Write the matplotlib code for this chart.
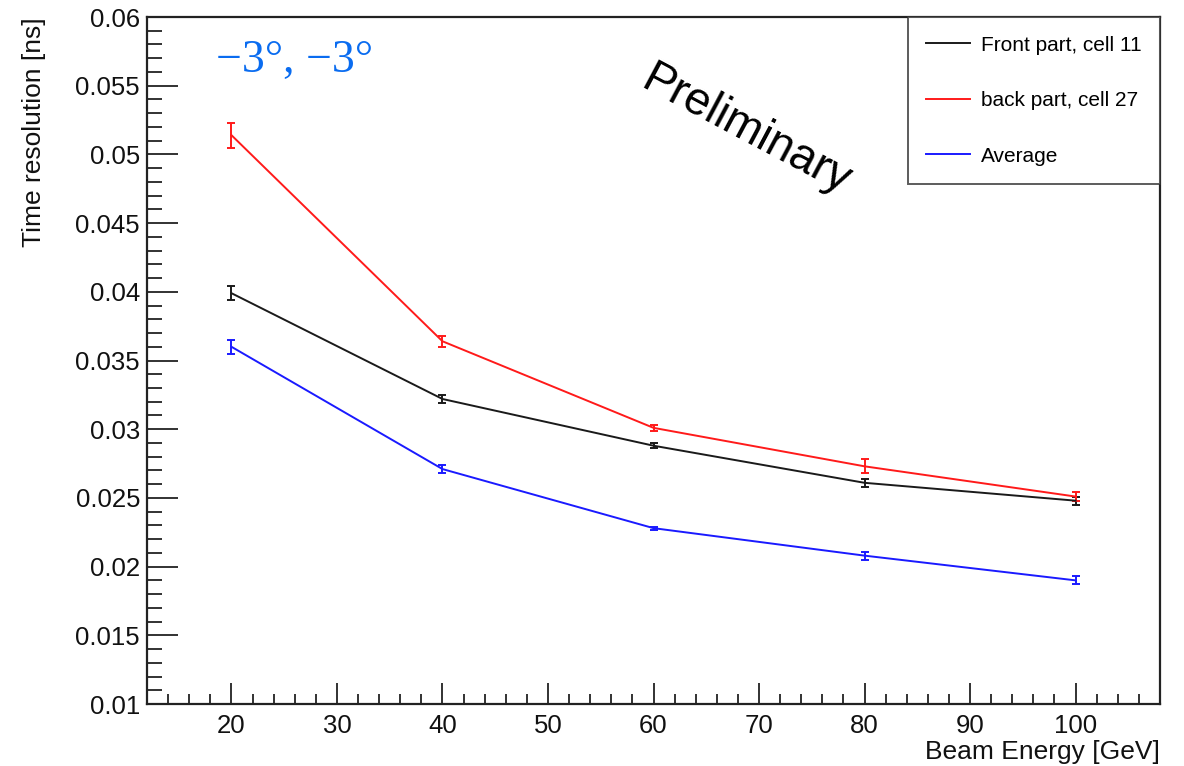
import matplotlib
matplotlib.use("Agg")
import matplotlib.pyplot as plt
from matplotlib.ticker import MultipleLocator

plt.rcParams['font.family'] = ['Liberation Sans', 'DejaVu Sans']

energy = [20, 40, 60, 80, 100]
front = [0.0399, 0.0322, 0.0288, 0.0261, 0.0248]
front_err = [0.0005, 0.0003, 0.0002, 0.0003, 0.0003]
back = [0.0514, 0.0364, 0.0301, 0.0273, 0.0251]
back_err = [0.0009, 0.0004, 0.0002, 0.0005, 0.0003]
average = [0.0360, 0.0271, 0.0228, 0.0208, 0.0190]
average_err = [0.0005, 0.0003, 0.0001, 0.0003, 0.0003]

y_ticks = [0.01, 0.015, 0.02, 0.025, 0.03, 0.035, 0.04, 0.045, 0.05, 0.055, 0.06]
y_tick_labels = ["0.01", "0.015", "0.02", "0.025", "0.03", "0.035", "0.04",
                 "0.045", "0.05", "0.055", "0.06"]
x_ticks = [20, 30, 40, 50, 60, 70, 80, 90, 100]

series = [
    ("Front part, cell 11", front, front_err, "#1a1a1a"),
    ("back part, cell 27", back, back_err, "#ff1a1a"),
    ("Average", average, average_err, "#1a1aff"),
]

fig = plt.figure(figsize=(11.84, 7.66), dpi=100)
ax = fig.add_axes([0.1242, 0.0809, 0.8555, 0.8969])

handles = []
for label, vals, errs, color in series:
    ax.errorbar(energy, vals, yerr=errs, color=color, lw=1.4,
                elinewidth=1.4, capsize=3, capthick=1.4, zorder=3)
    h, = ax.plot([], [], color=color, lw=1.4, label=label)
    handles.append(h)

ax.set_xlim(12, 108)
ax.set_ylim(0.01, 0.06)
ax.xaxis.set_minor_locator(MultipleLocator(2))
ax.yaxis.set_minor_locator(MultipleLocator(0.001))
ax.set_yticks(y_ticks)
ax.set_yticklabels(y_tick_labels)
ax.set_xticks(x_ticks)

ax.tick_params(axis='both', which='both', direction='in', colors='#222222',
               labelcolor='#111111', labelsize=18.5, width=1.3)
ax.tick_params(axis='x', which='major', length=15, pad=7)
ax.tick_params(axis='x', which='minor', length=7.5)
ax.tick_params(axis='y', which='major', length=22, pad=5)
ax.tick_params(axis='y', which='minor', length=11)

for sp in ax.spines.values():
    sp.set_linewidth(1.6)
    sp.set_color('#222222')

ax.set_xlabel("Beam Energy [GeV]", fontsize=19, color='#111111')
ax.xaxis.set_label_coords(1.0, -0.052)
ax.xaxis.label.set_horizontalalignment('right')
ax.set_ylabel("Time resolution [ns]", fontsize=19, color='#111111')
ax.yaxis.set_label_coords(-0.1, 1.0)
ax.yaxis.label.set_horizontalalignment('right')

leg = ax.legend(handles=handles, loc='upper right', fontsize=15,
                frameon=True, fancybox=False, edgecolor='#333333',
                borderaxespad=0, borderpad=0.9, labelspacing=1.75,
                handlelength=2.1, handletextpad=0.5)
leg.get_frame().set_linewidth(1.4)

ax.text(0.068, 0.937, "\u22123\u00b0, \u22123\u00b0", transform=ax.transAxes,
        fontsize=33, color='#0a6cf0', family=['Liberation Serif', 'DejaVu Serif'],
        ha='left', va='center')
ax.text(0.591, 0.835, "Preliminary", transform=ax.transAxes, fontsize=33,
        color='black', rotation=-28, ha='center', va='center',
        rotation_mode='anchor')

fig.savefig("out.png", dpi=100)
